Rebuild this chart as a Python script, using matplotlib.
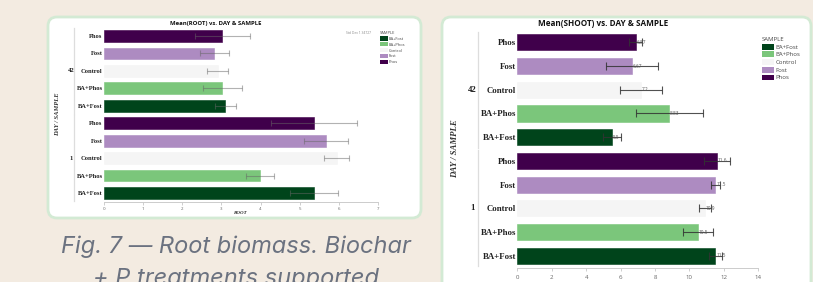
import matplotlib
matplotlib.use('Agg')
import matplotlib.pyplot as plt
from matplotlib.patches import FancyBboxPatch, Patch
from matplotlib.transforms import blended_transform_factory

W, H = 813, 282

days = ['1', '42']
samples = ['BA+Fost', 'BA+Phos', 'Control', 'Fost', 'Phos']
sample_colors = ['#00441b', '#7bc67b', '#f5f5f5', '#ad8bc1', '#40004b']

root_day1 = [5.36, 3.99, 5.94, 5.68, 5.36]
root_day1_sd = [0.61, 0.35, 0.32, 0.56, 1.10]
root_day42 = [3.10, 3.02, 2.90, 2.82, 3.02]
root_day42_sd = [0.27, 0.50, 0.27, 0.37, 0.70]

shoot_day1 = [11.5, 10.5, 10.9, 11.5, 11.6]
shoot_day1_sd = [0.38, 0.85, 0.33, 0.25, 0.75]
shoot_day42 = [5.5, 8.83, 7.2, 6.67, 6.87]
shoot_day42_sd = [0.5, 1.93, 1.23, 1.52, 0.39]

root_ticks = [0, 1, 2, 3, 4, 5, 6, 7]
shoot_ticks = [0, 2, 4, 6, 8, 10, 12, 14]

BG = '#f3ebe1'
fig = plt.figure(figsize=(W / 100, H / 100), dpi=100, facecolor=BG)


def card(x0, y0, x1, y1):
    p = FancyBboxPatch((x0 / 100, (H - y1) / 100), (x1 - x0) / 100, (y1 - y0) / 100,
                       boxstyle='round,pad=0,rounding_size=0.09',
                       transform=fig.dpi_scale_trans, fc='white', ec='#d3ead4',
                       lw=2.0, zorder=-5)
    fig.add_artist(p)


card(48, 17, 421, 218)
card(442, 17, 811, 305)


def add_ax(x0, x1, ytop, ybot):
    return fig.add_axes([x0 / W, (H - ybot) / H, (x1 - x0) / W, (ybot - ytop) / H])


SERIF = 'Liberation Serif'
SANS = 'Open Sans'


def draw_chart(ax, d1, d1sd, d42, d42sd, xmax, ticks, title, xlabel, s):
    vals = d1 + d42
    sds = d1sd + d42sd
    cols = sample_colors * 2
    ypos = list(range(10))
    ax.set_facecolor('none')
    ax.barh(ypos, vals, height=0.68, color=cols, edgecolor=cols, lw=0.4, zorder=2)
    ax.errorbar(vals, ypos, xerr=sds, fmt='none', ecolor=s['ecol'], alpha=s['ealpha'],
                elinewidth=0.8, capsize=s['cap'], capthick=0.8, zorder=3)
    ax.set_xlim(0, xmax)
    ax.set_ylim(-0.5, 9.5)
    ax.set_yticks(ypos)
    ax.set_yticklabels(samples * 2, fontfamily=SERIF, fontweight='bold',
                       fontsize=s['yfs'], color='#222222')
    ax.set_xticks(ticks)
    ax.set_xticklabels([str(t) for t in ticks], fontsize=s['xfs'], color='#666666',
                       fontfamily=SANS)
    ax.tick_params(axis='y', length=0, pad=1)
    ax.tick_params(axis='x', length=2, width=0.5, color='#bbbbbb', pad=s['xpad'])
    for sp in ['left', 'top', 'right']:
        ax.spines[sp].set_visible(False)
    ax.spines['bottom'].set_color('#cccccc')
    ax.spines['bottom'].set_linewidth(0.7)
    tr = blended_transform_factory(ax.transAxes, ax.transData)
    for d, yc, (ya, yb) in [('1', 2, (-0.45, 4.45)), ('42', 7, (4.55, 9.45))]:
        ax.text(s['gx'], yc, d, transform=tr, ha='center', va='center',
                fontfamily=SERIF, fontweight='bold', fontsize=s['yfs'], color='#222222')
        ax.plot([s['lx'], s['lx']], [ya, yb], transform=tr, color='#dddddd', lw=0.9,
                clip_on=False)
    ax.text(s['ylx'], 0.5, 'DAY / SAMPLE', transform=ax.transAxes, rotation=90,
            ha='center', va='center', fontfamily=SERIF, fontweight='bold',
            fontstyle='italic', fontsize=s['yfs'], color='#333333')
    return ax


# ---- left chart (ROOT)
axL = add_ax(104, 378, 27.3, 201.7)
draw_chart(axL, root_day1, root_day1_sd, root_day42, root_day42_sd, 7, root_ticks,
           'Mean(ROOT) vs. DAY & SAMPLE', 'ROOT',
           dict(ecol='#666666', ealpha=0.5, cap=2.2, yfs=4.7, xfs=3.2, xpad=2,
                gx=(71 - 104) / 274, lx=(74 - 104) / 274, ylx=(58 - 104) / 274))
fig.text(216 / W, 1 - 23 / H, 'Mean(ROOT) vs. DAY & SAMPLE', ha='center', va='center',
         fontfamily=SANS, fontweight='bold', fontsize=4.3, color='#111111')
fig.text(240 / W, 1 - 213 / H, 'ROOT', ha='center', va='center', fontfamily=SERIF,
         fontweight='bold', fontstyle='italic', fontsize=3.6, color='#333333')
fig.text(358 / W, 1 - 33 / H, 'Std Dev 1.34727', ha='center', va='center',
         fontfamily=SANS, fontsize=2.4, color='#888888')

# ---- right chart (SHOOT)
axR = add_ax(517.3, 758.3, 30.5, 267.6)
draw_chart(axR, shoot_day1, shoot_day1_sd, shoot_day42, shoot_day42_sd, 14, shoot_ticks,
           'Mean(SHOOT) vs. DAY & SAMPLE', 'SHOOT',
           dict(ecol='#333333', ealpha=0.85, cap=2.8, yfs=6.3, xfs=4.4, xpad=3,
                gx=(472 - 517.3) / 241, lx=(478 - 517.3) / 241, ylx=(455 - 517.3) / 241))
for yv, v in enumerate(shoot_day1 + shoot_day42):
    axR.text(v + 0.05, yv, f'{v:g}', ha='left', va='center', fontsize=3.4,
             fontfamily=SANS, color='#555555', zorder=4)
fig.text(603 / W, 1 - 24 / H, 'Mean(SHOOT) vs. DAY & SAMPLE', ha='center', va='center',
         fontfamily=SANS, fontweight='bold', fontsize=5.9, color='#111111')
fig.text(603 / W, 1 - 286 / H, 'SHOOT', ha='center', va='center', fontfamily=SERIF,
         fontweight='bold', fontstyle='italic', fontsize=5, color='#333333')

# ---- legends
handles = [Patch(facecolor=c, edgecolor='none') for c in sample_colors]
legL = fig.legend(handles, samples, title='SAMPLE', loc='upper left',
                  bbox_to_anchor=(378 / W, 1 - 29 / H), frameon=False,
                  prop={'family': SANS, 'size': 2.9}, title_fontproperties={'family': SANS, 'size': 3.0},
                  handlelength=1.9, handleheight=1.2, handletextpad=0.2, labelspacing=0.35,
                  borderpad=0, alignment='left')
legR = fig.legend(handles, samples, title='SAMPLE', loc='upper left',
                  bbox_to_anchor=(759 / W, 1 - 34 / H), frameon=False,
                  prop={'family': SANS, 'size': 4.3}, title_fontproperties={'family': SANS, 'size': 4.3},
                  handlelength=2.0, handleheight=1.1, handletextpad=0.2, labelspacing=0.3,
                  borderpad=0, alignment='left')
for leg in (legL, legR):
    for t in leg.get_texts():
        t.set_color('#444444')
    leg.get_title().set_color('#444444')

# ---- caption
cap_kw = dict(ha='center', va='center', fontfamily='Inter', fontstyle='italic',
              fontsize=17, color='#6b7280')
fig.text(236 / W, 1 - 247 / H, 'Fig. 7 \u2014 Root biomass. Biochar', **cap_kw)
fig.text(236 / W, 1 - 279 / H, '+ P treatments supported', **cap_kw)

fig.savefig('out.png', dpi=100, facecolor=BG)
